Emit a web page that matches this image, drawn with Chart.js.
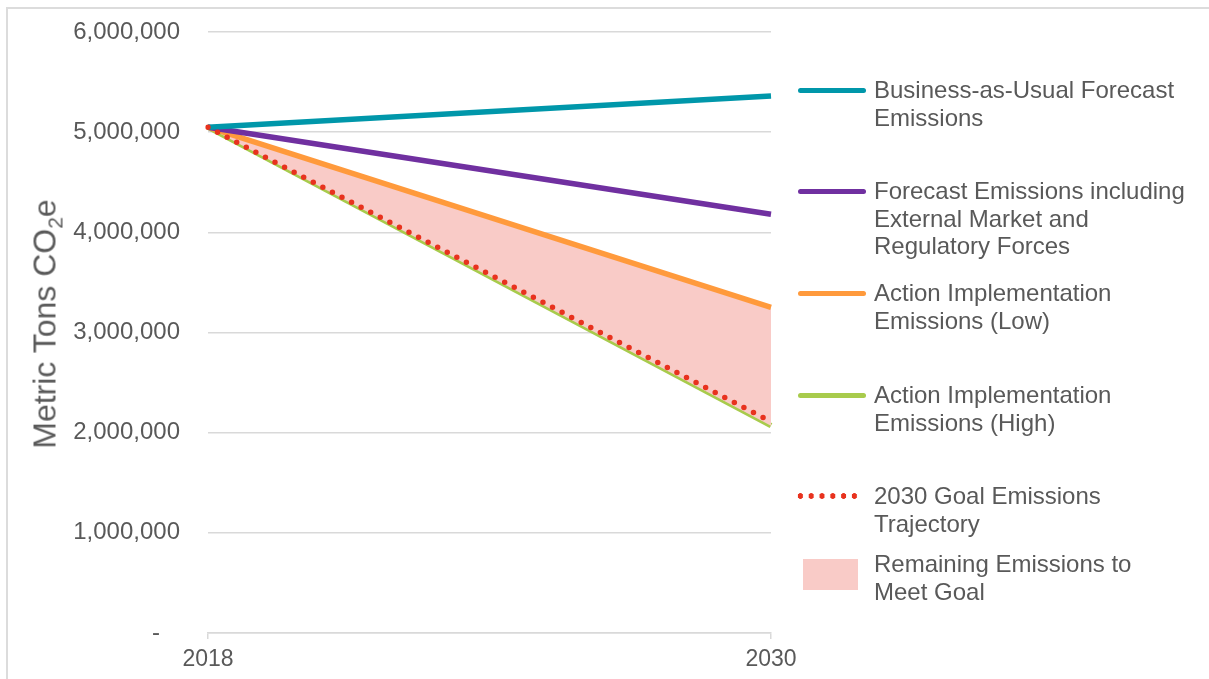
<!DOCTYPE html>
<html>
<head>
<meta charset="utf-8">
<script src="https://cdn.jsdelivr.net/npm/chart.js@4/dist/chart.umd.min.js"></script>
<style>
    body { margin: 0; background: #fff; font-family: "Liberation Sans", Arial, sans-serif; }
    #wrap { position: relative; width: 1209px; height: 679px; overflow: hidden; }
    #frame { position: absolute; left: 6px; top: 7px; right: -4px; bottom: -4px; border-left: 2px solid #dcdcdc; border-top: 2px solid #dcdcdc; }
    #chart { position: absolute; left: 0; top: 0; }
    #yTitle { position: absolute; left: 45px; top: 324px; transform: translate(-50%, -50%) rotate(-90deg); white-space: nowrap; font-size: 32px; color: #595959; }
    #yTitle sub { font-size: 21px; vertical-align: -7px; line-height: 0; }
    .item { position: absolute; left: 874px; font-size: 24px; line-height: 27.5px; color: #595959; white-space: nowrap; }
    .swatch { position: absolute; left: 798px; width: 68px; height: 5px; border-radius: 3px; }
    .dots { position: absolute; left: 795px; width: 65px; height: 6px; background-image: radial-gradient(circle, #e8321e 2.6px, transparent 3px); background-size: 10.8px 6px; }
    .box { position: absolute; left: 803px; width: 55px; height: 31px; background: #f9cbc7; }
</style>
</head>
<body>
<div id="wrap">
    <div id="frame"></div>
    <canvas id="chart" width="1209" height="679"></canvas>
    <div id="yTitle">Metric Tons CO<sub>2</sub>e</div>
    <div id="legend"></div>
</div>
<script>
// chart values
const years = ['2018', '2030'];
const businessAsUsual = [5050000, 5360000];
const forecastExternal = [5050000, 4180000];
const actionLow = [5050000, 3250000];
const actionHigh = [5050000, 2070000];
const goalTrajectory = [5050000, 2110000];

const legendItems = [
    { type: 'line', color: '#0097aa', y: 90, lines: ['Business-as-Usual Forecast', 'Emissions'] },
    { type: 'line', color: '#7030a0', y: 191, lines: ['Forecast Emissions including', 'External Market and', 'Regulatory Forces'] },
    { type: 'line', color: '#ff9a3c', y: 293, lines: ['Action Implementation', 'Emissions (Low)'] },
    { type: 'line', color: '#a8cb4c', y: 395, lines: ['Action Implementation', 'Emissions (High)'] },
    { type: 'dots', color: '#e8321e', y: 496, lines: ['2030 Goal Emissions', 'Trajectory'] },
    { type: 'box', color: '#f9cbc7', y: 564, lines: ['Remaining Emissions to', 'Meet Goal'] }
];

const textColor = '#595959';
const gridColor = '#d9d9d9';

// build the html legend on the right
const legendDiv = document.getElementById('legend');
legendItems.forEach((item) => {
    let mark = document.createElement('div');
    if (item.type == 'line') {
        mark.className = 'swatch';
        mark.style.background = item.color;
        mark.style.top = (item.y - 2.5) + 'px';
    } else if (item.type == 'dots') {
        mark.className = 'dots';
        mark.style.top = (item.y - 3) + 'px';
    } else {
        mark.className = 'box';
        mark.style.top = (item.y - 5) + 'px';
    }
    legendDiv.appendChild(mark);

    let text = document.createElement('div');
    text.className = 'item';
    text.style.top = (item.y - 13.75) + 'px';
    text.innerHTML = item.lines.join('<br>');
    legendDiv.appendChild(text);
});

function lineSet(label, data, color, order) {
    return {
        label: label,
        data: data,
        borderColor: color,
        backgroundColor: color,
        borderWidth: 5.5,
        pointRadius: 0,
        tension: 0,
        fill: false,
        order: order
    };
}

const lowSet = lineSet('Action Implementation Emissions (Low)', actionLow, '#ff9a3c', 3);
lowSet.fill = { target: 3 };
lowSet.backgroundColor = '#f9cbc7';

const goalSet = lineSet('2030 Goal Emissions Trajectory', goalTrajectory, '#e8321e', 0);
goalSet.borderWidth = 5.5;
goalSet.borderDash = [0, 10.8];
goalSet.borderCapStyle = 'round';

new Chart(document.getElementById('chart'), {
    type: 'line',
    data: {
        labels: years,
        datasets: [
            lineSet('Business-as-Usual Forecast Emissions', businessAsUsual, '#0097aa', 1),
            lineSet('Forecast Emissions including External Market and Regulatory Forces', forecastExternal, '#7030a0', 2),
            lowSet,
            lineSet('Action Implementation Emissions (High)', actionHigh, '#a8cb4c', 4),
            goalSet
        ]
    },
    options: {
        responsive: false,
        animation: false,
        devicePixelRatio: 1,
        layout: { padding: { left: 0, top: 32, right: 438, bottom: 0 } },
        plugins: {
            legend: { display: false },
            tooltip: { enabled: false }
        },
        scales: {
            x: {
                offset: false,
                grid: { drawOnChartArea: false, drawTicks: true, tickLength: 6, color: gridColor, lineWidth: 1.5 },
                border: { display: true, color: gridColor, width: 1.5 },
                ticks: {
                    color: textColor,
                    padding: 7,
                    maxRotation: 0,
                    font: { family: "'Liberation Sans', Arial", size: 23 }
                },
                afterFit: (scale) => { scale.height = 46; }
            },
            y: {
                min: 0,
                max: 6000000,
                // invisible tick marks keep the labels away from the plot
                grid: { drawTicks: true, tickLength: 28, tickColor: 'rgba(0,0,0,0)', color: gridColor, lineWidth: 1.5 },
                border: { display: false },
                ticks: {
                    stepSize: 1000000,
                    color: textColor,
                    padding: 0,
                    font: { family: "'Liberation Sans', Arial", size: 24 },
                    callback: (value) => value == 0 ? '-   ' : value.toLocaleString('en-US')
                },
                afterFit: (scale) => { scale.width = 208; }
            }
        }
    }
});
</script>
</body>
</html>
